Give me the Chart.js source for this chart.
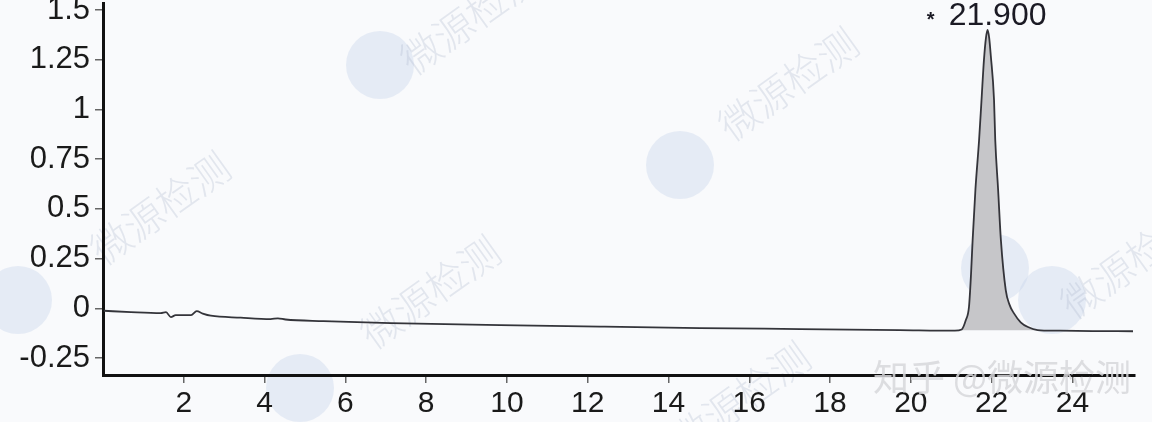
<!DOCTYPE html>
<html>
<head>
<meta charset="utf-8">
<script src="https://cdn.jsdelivr.net/npm/chart.js@4.4.1/dist/chart.umd.min.js"></script>
<style>
  html, body { margin: 0; padding: 0; background: #f9fafc; }
  #wrap { width: 1152px; height: 422px; position: relative; }
</style>
</head>
<body>
<div id="wrap"><canvas id="chroma"></canvas></div>
<script>
// ── Data ────────────────────────────────────────────────────

// retention time (min) and detector signal of the trace
const traceTime = [
  0.02, 0.69, 1.43, 1.56, 1.68, 1.80, 2.18, 2.32, 2.47, 2.67, 3.41, 4.15, 4.33, 4.52,
  5.46, 7.12, 9.84, 12.31, 14.78, 17.26, 19.73, 21.09,
  21.26, 21.36, 21.44, 21.49, 21.53, 21.60, 21.69, 21.75, 21.81, 21.86, 21.90,
  21.94, 21.98, 22.06, 22.09, 22.16, 22.23, 22.35, 22.44, 22.55, 22.72, 22.90, 23.14,
  23.60, 24.50, 25.50,
];
const traceSignal = [
  -0.012, -0.019, -0.024, -0.019, -0.044, -0.034, -0.034, -0.014, -0.026, -0.037, -0.047, -0.054, -0.050, -0.056,
  -0.064, -0.074, -0.084, -0.092, -0.099, -0.104, -0.109, -0.112,
  -0.106, -0.060, 0.008, 0.170, 0.343, 0.600, 0.846, 1.047, 1.248, 1.360, 1.400,
  1.360, 1.270, 1.047, 0.846, 0.600, 0.343, 0.092, 0.020, -0.024, -0.070, -0.094, -0.109,
  -0.112, -0.114, -0.115,
];

// integrated peak (shaded area)
const peakStart = 21.26;
const peakEnd = 23.14;
const peakBase = -0.11;
const peakLabel = '21.900';
const peakApex = 21.90;

const xTicks = [2, 4, 6, 8, 10, 12, 14, 16, 18, 20, 22, 24];
const yTicks = [-0.25, 0, 0.25, 0.5, 0.75, 1, 1.25, 1.5];

// ── Helpers ─────────────────────────────────────────────────

const FONT = '"Liberation Sans", Arial, sans-serif';
const CJK = '"Noto Sans CJK SC", sans-serif';

const tracePoints = traceTime.map((t, i) => ({ x: t, y: traceSignal[i] }));
const peakPoints = tracePoints.filter(p => p.x >= peakStart && p.x <= peakEnd);

const bgPlugin = {
  id: 'bg',
  beforeDraw(chart) {
    const { ctx, width, height } = chart;
    ctx.save();
    ctx.fillStyle = '#f9fafc';
    ctx.fillRect(0, 0, width, height);

    // faint logo watermarks
    ctx.fillStyle = 'rgba(200, 213, 234, 0.4)';
    [[380, 65], [680, 165], [995, 268], [1052, 300], [300, 388], [18, 300]].forEach(([cx, cy]) => {
      ctx.beginPath();
      ctx.arc(cx, cy, 34, 0, Math.PI * 2);
      ctx.fill();
    });

    // rotated watermark text
    ctx.fillStyle = 'rgba(170, 180, 200, 0.28)';
    ctx.font = `300 40px ${CJK}`;
    ctx.textAlign = 'center';
    ctx.textBaseline = 'middle';
    [[160, 208], [430, 292], [788, 84], [470, 18], [1130, 262], [740, 398]].forEach(([cx, cy]) => {
      ctx.save();
      ctx.translate(cx, cy);
      ctx.rotate(-0.62);
      ctx.fillText('微源检测', 0, 0);
      ctx.restore();
    });
    ctx.restore();
  },
};

const annotatePlugin = {
  id: 'annotate',
  afterDraw(chart) {
    const { ctx } = chart;
    const xs = chart.scales.x;
    const ys = chart.scales.y;
    const px = xs.getPixelForValue(peakApex);
    const py = ys.getPixelForValue(1.40);

    ctx.save();
    ctx.fillStyle = '#1b1a24';
    ctx.font = `32px ${FONT}`;
    ctx.textAlign = 'center';
    ctx.textBaseline = 'alphabetic';
    ctx.fillText(peakLabel, px + 10, py - 5);
    ctx.font = `bold 20px ${FONT}`;
    ctx.fillText('*', px - 57, py - 4);

    // site watermark over the x axis
    ctx.font = `36px ${CJK}`;
    ctx.textAlign = 'left';
    ctx.textBaseline = 'middle';
    ctx.fillStyle = 'rgba(215, 215, 218, 0.85)';
    ctx.fillText('知乎 @微源检测', 873, 377);
    ctx.restore();
  },
};

// ── Chart ───────────────────────────────────────────────────

new Chart(document.getElementById('chroma'), {
  type: 'line',
  data: {
    datasets: [
      {
        label: 'trace',
        data: tracePoints,
        borderColor: '#34343a',
        borderWidth: 1.8,
        pointRadius: 0,
        fill: false,
        cubicInterpolationMode: 'monotone',
        order: 1,
      },
      {
        label: 'peak',
        data: peakPoints,
        borderColor: 'rgba(0,0,0,0)',
        borderWidth: 0,
        pointRadius: 0,
        backgroundColor: '#c6c6c9',
        fill: { value: peakBase },
        cubicInterpolationMode: 'monotone',
        order: 2,
      },
    ],
  },
  options: {
    responsive: true,
    maintainAspectRatio: false,
    animation: false,
    layout: { padding: { left: 0, top: 3, right: 17, bottom: 0 } },
    plugins: { legend: { display: false }, tooltip: { enabled: false } },
    scales: {
      x: {
        type: 'linear',
        min: 0,
        max: 25.55,
        afterBuildTicks: (s) => { s.ticks = xTicks.map(v => ({ value: v })); },
        afterFit: (s) => { s.height = 47; s.paddingLeft = 0; s.paddingRight = 0; },
        border: { display: true, color: '#111', width: 3 },
        grid: { drawOnChartArea: false, drawTicks: true, tickLength: 8, color: '#666', lineWidth: 1.5 },
        ticks: { color: '#1a1a1a', font: { family: FONT, size: 30 }, padding: 3, maxRotation: 0, autoSkip: false },
      },
      y: {
        min: -0.335,
        max: 1.535,
        afterBuildTicks: (s) => { s.ticks = yTicks.map(v => ({ value: v })); },
        afterFit: (s) => { s.width = 103; s.paddingTop = 0; s.paddingBottom = 0; },
        border: { display: true, color: '#111', width: 3 },
        grid: { drawOnChartArea: false, drawTicks: true, tickLength: 8, color: '#666', lineWidth: 1.5 },
        ticks: {
          color: '#1a1a1a',
          font: { family: FONT, size: 31 },
          padding: 5,
          autoSkip: false,
          callback: (v) => String(v),
        },
      },
    },
  },
  plugins: [bgPlugin, annotatePlugin],
});
</script>
</body>
</html>
